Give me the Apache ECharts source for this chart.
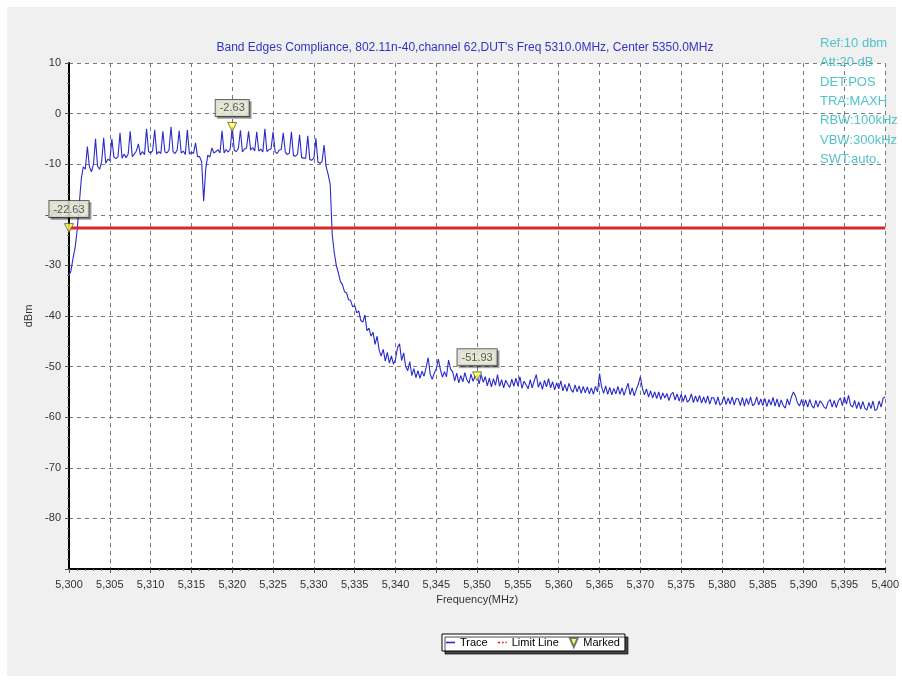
<!DOCTYPE html>
<html>
<head>
<meta charset="utf-8">
<script src="https://cdn.jsdelivr.net/npm/echarts@6/dist/echarts.min.js"></script>
<style>
html,body{margin:0;padding:0;background:#fff;}
#chart{width:902px;height:682px;}
</style>
</head>
<body>
<div id="chart"></div>
<script>
// ---- data ----
const freqStart = 5300;
const freqStep = 0.25;
// trace values (dBm), one row per MHz (.00 .25 .50 .75)
const traceValues = [
  -32, -31, -28.5, -26.5,          // 5300
  -23, -18, -13, -10.5,            // 5301
  -11, -6.5, -10.5, -11.5,         // 5302
  -10, -5, -10.4, -11,             // 5303
  -9.5, -4.8, -9.8, -9,            // 5304
  -9.3, -5, -8.6, -8.9,            // 5305
  -8.5, -3.8, -8.8, -8,            // 5306
  -8.7, -8, -3.5, -8.5,            // 5307
  -8, -7.4, -6, -8.2,              // 5308
  -7.5, -8.1, -3.0, -7.5,          // 5309
  -7.8, -7.3, -3.2, -8,            // 5310
  -7.5, -7.9, -3.5, -7.6,          // 5311
  -7.8, -7.2, -2.6, -7.5,          // 5312
  -7.9, -7.2, -3.4, -7.8,          // 5313
  -7.4, -8.1, -3.2, -8,            // 5314
  -7.6, -7.9, -5.8, -8.5,          // 5315
  -8.5, -9.5, -17.3, -11,          // 5316
  -8.2, -8.6, -6.8, -7.8,          // 5317
  -7.5, -7.1, -7.8, -3.4,          // 5318
  -7.8, -7.1, -7.6, -7.0,          // 5319
  -2.63, -7.3, -7.5, -6.9,         // 5320
  -3.3, -7.6, -7, -6.8,            // 5321
  -3.5, -7.2, -6.7, -7.4,          // 5322
  -3.6, -7.4, -7, -7.6,            // 5323
  -3.0, -7.5, -7.1, -7.0,          // 5324
  -3.6, -7.5, -7.9, -7.2,          // 5325
  -7.1, -3.8, -7.6, -8.1,          // 5326
  -7.8, -3.6, -8.3, -8.4,          // 5327
  -8, -4.2, -8.7, -8.8,            // 5328
  -8.8, -4.4, -9.1, -9.2,          // 5329
  -8.8, -4.9, -9.6, -9.8,          // 5330
  -9.5, -6.2, -10.5, -12,          // 5331
  -14, -24, -27.5, -30,            // 5332
  -31.5, -33.2, -33.8, -35.2,      // 5333
  -35.4, -36.8, -36.9, -38.2,      // 5334
  -37.9, -39.4, -39.0, -40.9,      // 5335
  -41.2, -39.8, -42.9, -42.4,      // 5336
  -44.0, -43.2, -45.6, -44.0,      // 5337
  -46.8, -47.9, -46.6, -48.9,      // 5338
  -47.2, -49.3, -47.9, -49.5,      // 5339
  -48.6, -46.2, -45.5, -48.8,      // 5340
  -47.3, -50.0, -50.8, -49.0,      // 5341
  -51.8, -50.4, -52.2, -50.8,      // 5342
  -52.3, -50.9, -51.9, -50.2,      // 5343
  -48.2, -51.5, -52.5, -51.3,      // 5344
  -50.4, -48.5, -50.6, -52.1,      // 5345
  -51.0, -52.0, -48.7, -50.5,      // 5346
  -51.0, -52.8, -51.3, -53.2,      // 5347
  -51.8, -53.0, -51.2, -52.6,      // 5348
  -53.3, -51.5, -52.9, -51.9,      // 5349
  -51.93, -53.4, -51.6, -53.1,     // 5350
  -52.0, -53.8, -52.3, -54.0,      // 5351
  -52.4, -53.7, -51.6, -53.9,      // 5352
  -52.6, -54.2, -52.7, -53.5,      // 5353
  -54.1, -52.5, -53.9, -52.3,      // 5354
  -53.8, -52.0, -54.3, -52.9,      // 5355
  -53.6, -54.4, -52.6, -54.2,      // 5356
  -52.8, -51.6, -54.1, -53.0,      // 5357
  -54.5, -52.7, -54.0, -52.4,      // 5358
  -54.2, -53.0, -54.6, -53.2,      // 5359
  -54.4, -52.8, -54.8, -53.5,      // 5360
  -54.9, -53.3, -54.5, -55.1,      // 5361
  -53.6, -55.0, -53.8, -55.3,      // 5362
  -53.9, -55.2, -54.0, -55.4,      // 5363
  -54.2, -55.5, -53.9, -55.0,      // 5364
  -51.4, -54.0, -55.3, -53.8,      // 5365
  -55.5, -54.1, -55.6, -54.3,      // 5366
  -55.4, -53.9, -55.5, -54.2,      // 5367
  -55.7, -54.4, -53.3, -55.6,      // 5368
  -54.2, -55.8, -54.5, -53.5,      // 5369
  -52.0, -54.3, -55.6, -54.4,      // 5370
  -56.0, -54.8, -56.2, -55.0,      // 5371
  -56.3, -55.0, -56.5, -55.2,      // 5372
  -56.2, -55.3, -56.7, -55.5,      // 5373
  -55.1, -56.6, -55.4, -56.8,      // 5374
  -55.5, -56.9, -55.6, -57.0,      // 5375
  -56.6, -55.4, -57.1, -55.8,      // 5376
  -57.0, -55.7, -57.2, -56.0,      // 5377
  -57.2, -55.8, -57.4, -56.1,      // 5378
  -56.2, -57.5, -56.0, -57.6,      // 5379
  -57.2, -55.9, -57.5, -56.2,      // 5380
  -57.4, -56.0, -57.6, -56.3,      // 5381
  -56.4, -57.7, -56.1, -57.8,      // 5382
  -56.3, -57.5, -56.0, -57.7,      // 5383
  -57.4, -56.0, -57.6, -56.4,      // 5384
  -57.7, -56.3, -57.9, -56.5,      // 5385
  -57.6, -56.1, -57.8, -56.4,      // 5386
  -58.0, -56.6, -57.7, -58.2,      // 5387
  -56.4, -57.6, -56.0, -55.0,      // 5388
  -55.8, -57.2, -57.8, -56.5,      // 5389
  -57.9, -56.6, -58.0, -56.5,      // 5390
  -57.7, -58.2, -56.7, -58.0,      // 5391
  -56.8, -57.2, -58.0, -58.3,      // 5392
  -57.0, -56.5, -58.0, -56.7,      // 5393
  -58.1, -56.8, -56.2, -57.7,      // 5394
  -56.0, -57.4, -55.7, -57.6,      // 5395
  -58.0, -56.7, -58.3, -57.0,      // 5396
  -58.4, -56.9, -58.2, -58.6,      // 5397
  -57.1, -58.3, -56.8, -58.7,      // 5398
  -58.4, -56.8, -58.0, -56.2,      // 5399
  -56.0                            // 5400
];
const limitLevel = -22.63;
const limitRange = [5300, 5400];
const markerFreqs = [5300, 5320, 5350];
const markerValues = [-22.63, -2.63, -51.93];
const titleText = "Band Edges Compliance, 802.11n-40,channel 62,DUT's Freq 5310.0MHz, Center 5350.0MHz";
const infoLines = ["Ref:10 dbm", "Att:20 dB", "DET:POS", "TRA:MAXH", "RBW:100kHz", "VBW:300kHz", "SWT:auto."];

// ---- build ----
const traceData = traceValues.map((v, i) => [freqStart + i * freqStep, v]);
const limitData = limitRange.map(f => [f, limitLevel]);
const markerData = markerFreqs.map((f, i) => [f, markerValues[i]]);

const FONT = 'Liberation Sans, Arial, sans-serif';
const chart = echarts.init(document.getElementById('chart'), null, {renderer: 'canvas'});

const infoGraphics = infoLines.map((t, i) => ({
  type: 'text', left: 820, top: 37 + i * 19.3, z: 100,
  style: {text: t, fill: '#52c2c8', font: '13px ' + FONT}
}));

chart.setOption({
  backgroundColor: '#ffffff',
  animation: false,
  title: {
    text: titleText, left: 460, top: 37, textAlign: 'center',
    textStyle: {color: '#3333c4', fontSize: 12, fontWeight: 'normal', fontFamily: FONT}
  },
  graphic: [
    {type: 'rect', left: 7, top: 7, z: -10, shape: {width: 889, height: 669}, style: {fill: '#f0f0f0'}}
  ].concat(infoGraphics),
  grid: {left: 69, right: 14, top: 63, bottom: 113, show: true, backgroundColor: '#ffffff', borderWidth: 0},
  legend: {
    left: 442, top: 634, orient: 'horizontal',
    padding: [3, 5, 3, 4], itemGap: 10, itemWidth: 9, itemHeight: 9,
    backgroundColor: '#ffffff', borderColor: '#000', borderWidth: 1,
    shadowColor: 'rgba(0,0,0,0.7)', shadowOffsetX: 3, shadowOffsetY: 3, shadowBlur: 0,
    textStyle: {fontSize: 11, color: '#000', fontFamily: FONT},
    data: [
      {name: 'Trace', icon: 'path://M0,0h9v1.6h-9z'},
      {name: 'Limit Line', icon: 'path://M0,0h3v1.8h-3zM5,0h2v1.8h-2zM9,0h1.5v1.8h-1.5z'},
      {name: 'Marked', icon: 'path://M0,0L8,0L4,9Z'}
    ]
  },
  xAxis: {
    type: 'value', min: 5300, max: 5400, interval: 5,
    name: 'Frequency(MHz)', nameLocation: 'middle', nameGap: 23,
    nameTextStyle: {fontSize: 11, color: '#333', fontFamily: FONT},
    axisLine: {show: true, onZero: false, lineStyle: {color: '#000', width: 2}},
    axisTick: {show: true, length: 4, lineStyle: {color: '#555'}},
    minorTick: {show: true, splitNumber: 5, length: 2, lineStyle: {color: '#777'}},
    axisLabel: {fontSize: 11, color: '#333', fontFamily: FONT, margin: 10,
      formatter: v => String(v).replace(/(\d)(\d{3})$/, '$1,$2')},
    splitLine: {show: true, lineStyle: {color: '#7a7a7a', type: [4, 4], width: 1}}
  },
  yAxis: {
    type: 'value', min: -90, max: 10, interval: 10,
    name: 'dBm', nameLocation: 'middle', nameGap: 32, nameRotate: 90,
    nameTextStyle: {fontSize: 11, color: '#333', fontFamily: FONT},
    axisLine: {show: true, onZero: false, lineStyle: {color: '#000', width: 2}},
    axisTick: {show: true, length: 4, lineStyle: {color: '#555'}},
    minorTick: {show: true, splitNumber: 5, length: 2, lineStyle: {color: '#777'}},
    axisLabel: {fontSize: 11, color: '#333', fontFamily: FONT, margin: 8,
      formatter: v => (v === -90 ? '' : String(v))},
    splitLine: {show: true, lineStyle: {color: '#7a7a7a', type: [4, 4], width: 1}}
  },
  series: [
    {
      name: 'Trace', type: 'line', data: traceData, showSymbol: false, symbol: 'none',
      sampling: null, z: 3,
      lineStyle: {color: '#2a2ac8', width: 1.1}, itemStyle: {color: '#2a2ac8'}
    },
    {
      name: 'Limit Line', type: 'line', data: limitData, showSymbol: false, symbol: 'none', z: 4,
      lineStyle: {color: '#d42a2a', width: 3}, itemStyle: {color: '#e02020'}
    },
    {
      name: 'Marked', type: 'scatter', data: markerData, z: 6, clip: false,
      symbol: 'path://M0,0L10,0L5,10Z', symbolSize: [9, 9],
      itemStyle: {color: '#ffff40', borderColor: '#555', borderWidth: 1},
      label: {
        show: true, position: 'top', distance: 6,
        formatter: p => p.value[1].toFixed(2),
        fontSize: 11, color: '#333', fontFamily: FONT,
        backgroundColor: '#f3f3de', borderColor: '#444', borderWidth: 1,
        padding: [3, 4, 2, 4],
        shadowColor: 'rgba(0,0,0,0.35)', shadowOffsetX: 2, shadowOffsetY: 2, shadowBlur: 0
      }
    }
  ]
});
</script>
</body>
</html>
